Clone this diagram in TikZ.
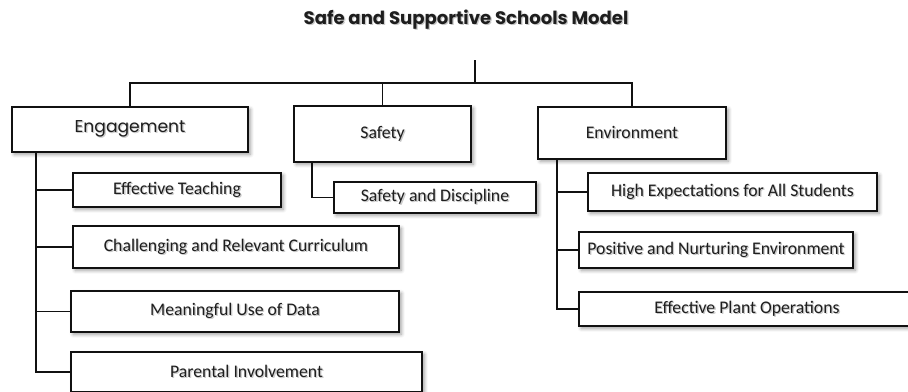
\documentclass[tikz,border=0pt]{standalone}
\usepackage{fontspec}
\setmainfont{Carlito}
\newfontfamily\gothic{Poppins}
\usetikzlibrary{shadows.blur}
\definecolor{cink}{HTML}{1E1E1E}
\definecolor{cline}{HTML}{111111}
% text with a soft grey copy behind it
\newcommand{\shtext}[1]{\makebox[0pt][l]{\hspace{0.9pt}\raisebox{-0.9pt}{\textcolor{black!22}{#1}}}\makebox[0pt][l]{\hspace{0.5pt}\raisebox{-0.5pt}{\textcolor{black!18}{#1}}}#1}
\tikzset{
  every picture/.style={line width=1.1pt},
  box/.style={draw=cline, fill=white, line width=1pt, inner sep=0pt, text=cink,
    font=\fontsize{12.6}{14}\selectfont,
    blur shadow={shadow xshift=1.6pt, shadow yshift=-1.6pt, shadow blur radius=2.6pt, shadow opacity=40}},
  sz/.style 2 args={minimum width=#1*0.025cm, minimum height=#2*0.025cm},
  link/.style={draw=cline, line width=1.3pt},
  title/.style={font=\gothic\bfseries\fontsize{12.85}{15}\selectfont, text=cink},
}

\begin{document}
\begin{tikzpicture}[x=0.025cm, y=-0.025cm]
  \useasboundingbox (0,0) rectangle (908,391);
  \node[title] (ttl) at (466,20) {\shtext{Safe and Supportive Schools Model}};
  % three main areas
  \node[box, sz={236}{45}, font=\gothic\fontsize{12.2}{14}\selectfont] (eng) at (130,129.5) {\shtext{Engagement}};
  \node[box, sz={177}{56}] (safety) at (382.5,134) {\shtext{Safety}};
  \node[box, sz={188}{52}] (env) at (632,133) {\shtext{Environment}};
  % engagement
  \node[box, sz={208}{34}] (teach) at (177,190) {\shtext{Effective Teaching}};
  \node[box, sz={326}{42}] (curric) at (236,247) {\shtext{Challenging and Relevant Curriculum}};
  \node[box, sz={328}{41}] (data) at (235,311.5) {\shtext{Meaningful Use of Data}};
  \node[box, sz={351}{40}] (parent) at (246.5,372) {\shtext{Parental Involvement}};
  % safety
  \node[box, sz={202}{31}] (discip) at (435,197.5) {\shtext{Safety and Discipline}};
  % environment
  \node[box, sz={289}{38}] (expect) at (732.5,192) {\shtext{High Expectations for All Students}};
  \node[box, sz={274}{36}] (nurture) at (716,250) {\shtext{Positive and Nurturing Environment}};
  \node[box, sz={336}{34}] (plant) at (747,309) {\shtext{Effective Plant Operations}};
  % top bar
  \coordinate (stem) at (475,60);
  \coordinate (bar) at (475,83);
  \draw[link] (stem) -- (bar);
  \draw[link] (eng.north) |- (bar) -| (env.north);
  \draw[link] (safety.north) |- (bar);
  % branches
  \coordinate (engtrunk) at (36,152);
  \coordinate (saftrunk) at (312,162);
  \coordinate (envtrunk) at (557,159);
  \foreach \c in {teach, curric, data, parent} \draw[link] (engtrunk) |- (\c.west);
  \draw[link] (saftrunk) |- (discip.west);
  \foreach \c in {expect, nurture, plant} \draw[link] (envtrunk) |- (\c.west);
\end{tikzpicture}
\end{document}
